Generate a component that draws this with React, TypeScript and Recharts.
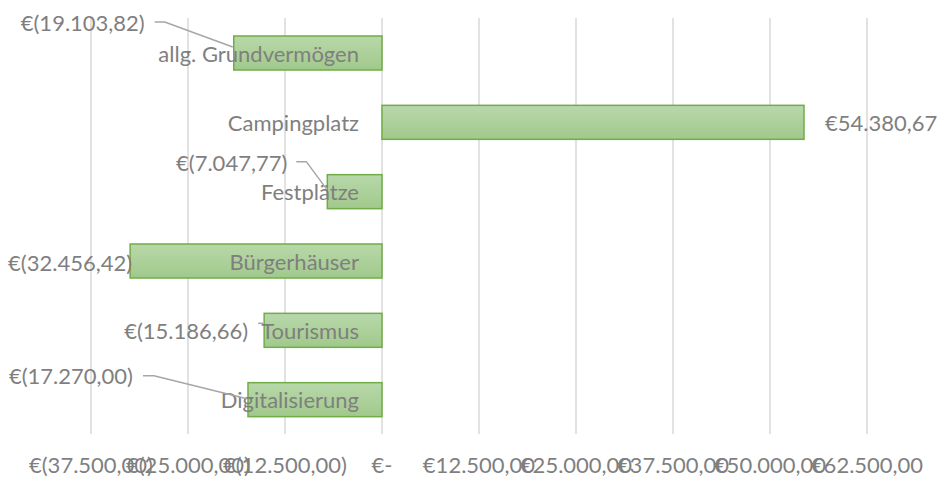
import React from "react";
import { BarChart, Bar, XAxis, YAxis, CartesianGrid } from "recharts";

const categories = [
  "allg. Grundvermögen",
  "Campingplatz",
  "Festplätze",
  "Bürgerhäuser",
  "Tourismus",
  "Digitalisierung",
];
const values = [-19103.82, 54380.67, -7047.77, -32456.42, -15186.66, -17270.0];
const xTicks = [-37500, -25000, -12500, 0, 12500, 25000, 37500, 50000, 62500];

const data = categories.map((name, i) => ({ name, value: values[i] }));

// label placement (layout config, relative to bar end / bar centre)
type Place = { dx: number; dy: number; anchor: "start" | "end"; leader?: number[][] };
const placements: Place[] = [
  { dx: -89, dy: -31, anchor: "end", leader: [[-79, -31], [-69, -31], [-1, -6]] },
  { dx: 21, dy: 0, anchor: "start" },
  { dx: -40, dy: -29, anchor: "end", leader: [[-31, -30], [-21, -30], [-1, -3]] },
  { dx: 2, dy: 1, anchor: "end" },
  { dx: -16, dy: 0, anchor: "end", leader: [[-6, -7], [-1, -7]] },
  { dx: -115, dy: -24, anchor: "end", leader: [[-105, -24], [-94, -24], [-1, -1]] },
];

const GRAY = "#7f7f7f";
const FONT = "Lato, 'Open Sans', sans-serif";
const FS = 22;

const fmt = (v: number) => {
  if (v === 0) return "€-";
  const abs = Math.abs(v);
  const s = abs.toFixed(2).split(".");
  const int = s[0].replace(/\B(?=(\d{3})+(?!\d))/g, ".");
  return v < 0 ? `€(${int},${s[1]})` : `€${int},${s[1]}`;
};

const BarShape = (props: any) => {
  const { x, y, width, height, index } = props;
  const v = values[index];
  const X = Number(x), W = Number(width), Y = Number(y), H = Number(height);
  const left = Math.min(X, X + W);
  const right = Math.max(X, X + W);
  const zero = v < 0 ? right : left;
  const end = v < 0 ? left : right;
  const cy = Y + H / 2;
  const p = placements[index];
  const gid = `greenGrad${index}`;
  return (
    <g>
      <defs>
        <linearGradient id={gid} x1="0" y1="0" x2="0" y2="1">
          <stop offset="0%" stopColor="#b8d8aa" />
          <stop offset="100%" stopColor="#a1c98b" />
        </linearGradient>
      </defs>
      <rect
        x={left}
        y={Y}
        width={right - left}
        height={H}
        fill={`url(#${gid})`}
        stroke="#70ad47"
        strokeWidth={1.5}
      />
      <text
        x={zero - 23}
        y={cy}
        textAnchor="end"
        dominantBaseline="central"
        fill={GRAY}
        fontSize={FS}
        fontFamily={FONT}
      >
        {categories[index]}
      </text>
      {p.leader && (
        <polyline
          points={p.leader.map(([a, b]) => `${end + a},${cy + b}`).join(" ")}
          fill="none"
          stroke="#a6a6a6"
          strokeWidth={1.5}
        />
      )}
      <text
        x={end + p.dx}
        y={cy + p.dy}
        textAnchor={p.anchor}
        dominantBaseline="central"
        fill={GRAY}
        fontSize={FS}
        fontFamily={FONT}
      >
        {fmt(v)}
      </text>
    </g>
  );
};

export default function App() {
  return (
    <div style={{ position: "absolute", left: 0, top: 0, width: 939, height: 479, background: "#fff" }}>
      <BarChart
        width={939}
        height={479}
        data={data}
        layout="vertical"
        margin={{ top: 18, right: 72, bottom: 15, left: 31 }}
      >
        <CartesianGrid horizontal={false} stroke="#d9d9d9" strokeWidth={1.5} />
        <XAxis
          type="number"
          domain={[-37500, 62500]}
          ticks={xTicks}
          tickFormatter={fmt}
          axisLine={false}
          tickLine={false}
          tickSize={0}
          tickMargin={23}
          height={30}
          interval={0}
          tick={{ fill: GRAY, fontSize: FS, fontFamily: FONT }}
        />
        <YAxis type="category" dataKey="name" width={60} tick={false} axisLine={false} tickLine={false} />
        <Bar dataKey="value" barSize={34} fill="#a1c98b" isAnimationActive={false} shape={BarShape} />
      </BarChart>
    </div>
  );
}
